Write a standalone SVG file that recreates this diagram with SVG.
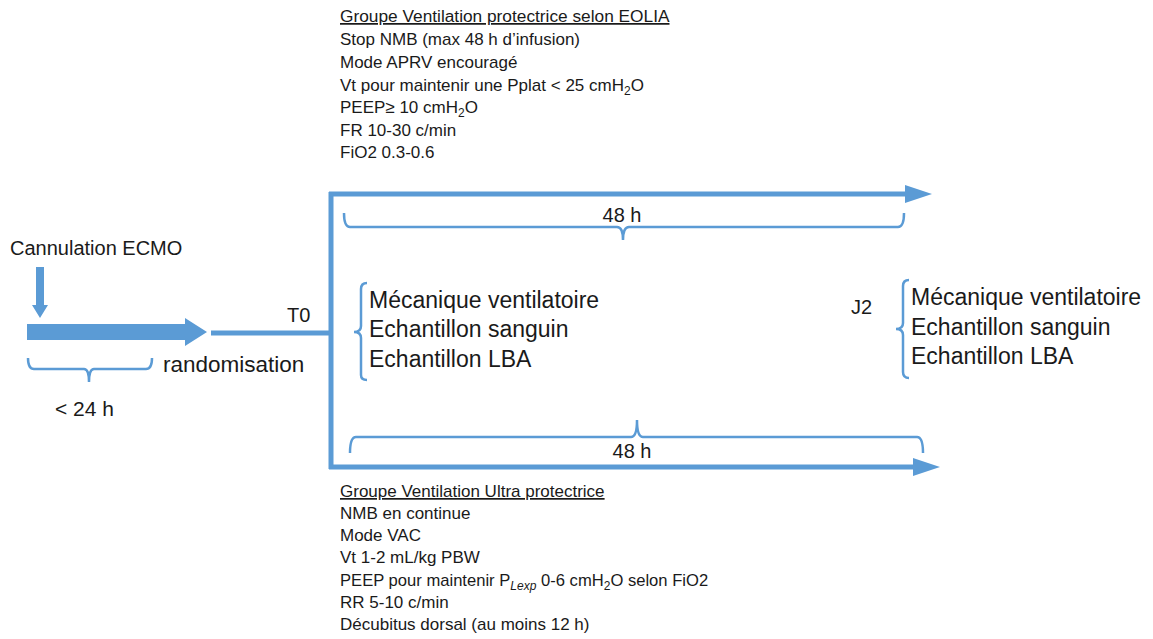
<svg xmlns="http://www.w3.org/2000/svg" width="1153" height="639" viewBox="0 0 1153 639">
<style>
text{font-family:"Liberation Sans",Arial,sans-serif;fill:#1a1a1a}
.sm{font-size:17px}
.md{font-size:23px}
.lg{font-size:20px}
.ln{fill:none;stroke:#5b9bd5;stroke-width:5}
.br{fill:none;stroke:#5b9bd5;stroke-width:2.5}
.ar{fill:#5b9bd5}
.sub{font-size:12px}
</style>
<rect width="1153" height="639" fill="#fff"/>
<g id="connectors">
<path class="ln" d="M211 333H332"/>
<path class="ln" d="M331 192V469"/>
<path class="ln" d="M329 194H908"/>
<polygon class="ar" points="905,185 932,194 905,203"/>
<path class="ln" d="M329 467H916"/>
<polygon class="ar" points="913,458 940,467 913,476"/>
</g>
<g id="ecmo">
<text class="lg" x="10" y="255">Cannulation ECMO</text>
<polygon class="ar" points="36,267 44,267 44,305 48,305 40,318 32,305 36,305"/>
</g>
<g id="timeline">
<polygon class="ar" points="27,324 185,324 185,318 207,332 185,346 185,340 27,340"/>
<path class="br" d="M28 358Q28 369 34 369H84Q89 369 89 382Q89 369 94 369H146Q152 369 152 358"/>
<text class="lg" x="55" y="416" style="font-size:21px">&lt; 24 h</text>
<text class="lg" x="163" y="372" style="font-size:22.5px">randomisation</text>
<text class="lg" x="287" y="322">T0</text>
</g>
<g id="group-eolia">
<text class="sm" x="340" y="22" text-decoration="underline" style="font-size:17.3px">Groupe Ventilation protectrice selon EOLIA</text>
<text class="sm" x="340" y="45">Stop NMB (max 48 h d’infusion)</text>
<text class="sm" x="340" y="68">Mode APRV encouragé</text>
<text class="sm" x="340" y="91">Vt pour maintenir une Pplat &lt; 25 cmH<tspan class="sub" dy="4">2</tspan><tspan dy="-4">O</tspan></text>
<text class="sm" x="340" y="113">PEEP≥ 10 cmH<tspan class="sub" dy="4">2</tspan><tspan dy="-4">O</tspan></text>
<text class="sm" x="340" y="136">FR 10-30 c/min</text>
<text class="sm" x="340" y="158">FiO2 0.3-0.6</text>
</g>
<g id="brace-top">
<path class="br" d="M344 213Q344 227 350 227H617Q623 227 623 240Q623 227 629 227H898Q904 227 904 213"/>
<text class="lg" x="622" y="222" text-anchor="middle">48 h</text>
</g>
<g id="t0-measures">
<path class="br" d="M367 283Q361 283 361 289V326Q361 332 354 332Q361 332 361 338V375Q361 380 367 380"/>
<text class="md" x="369" y="308">Mécanique ventilatoire</text>
<text class="md" x="369" y="337">Echantillon sanguin</text>
<text class="md" x="369" y="367">Echantillon LBA</text>
</g>
<g id="j2-measures">
<text class="lg" x="851" y="314">J2</text>
<path class="br" d="M909 280Q903 280 903 286V323Q903 329 896 329Q903 329 903 335V372Q903 378 909 378"/>
<text class="md" x="911" y="305">Mécanique ventilatoire</text>
<text class="md" x="911" y="335">Echantillon sanguin</text>
<text class="md" x="911" y="364">Echantillon LBA</text>
</g>
<g id="brace-bottom">
<path class="br" d="M350 453Q350 437 356 437H631Q637 437 637 420Q637 437 643 437H917Q923 437 923 453"/>
<text class="lg" x="632" y="458" text-anchor="middle">48 h</text>
</g>
<g id="group-ultra">
<text class="sm" x="340" y="497" text-decoration="underline">Groupe Ventilation Ultra protectrice</text>
<text class="sm" x="340" y="519">NMB en continue</text>
<text class="sm" x="340" y="541">Mode VAC</text>
<text class="sm" x="340" y="563">Vt 1-2 mL/kg PBW</text>
<text class="sm" x="340" y="586" style="font-size:16.6px">PEEP pour maintenir P<tspan class="sub" dy="4" font-style="italic">Lexp</tspan><tspan dy="-4"> 0-6 cmH</tspan><tspan class="sub" dy="4">2</tspan><tspan dy="-4">O selon FiO2</tspan></text>
<text class="sm" x="340" y="608">RR 5-10 c/min</text>
<text class="sm" x="340" y="630">Décubitus dorsal (au moins 12 h)</text>
</g>
</svg>
